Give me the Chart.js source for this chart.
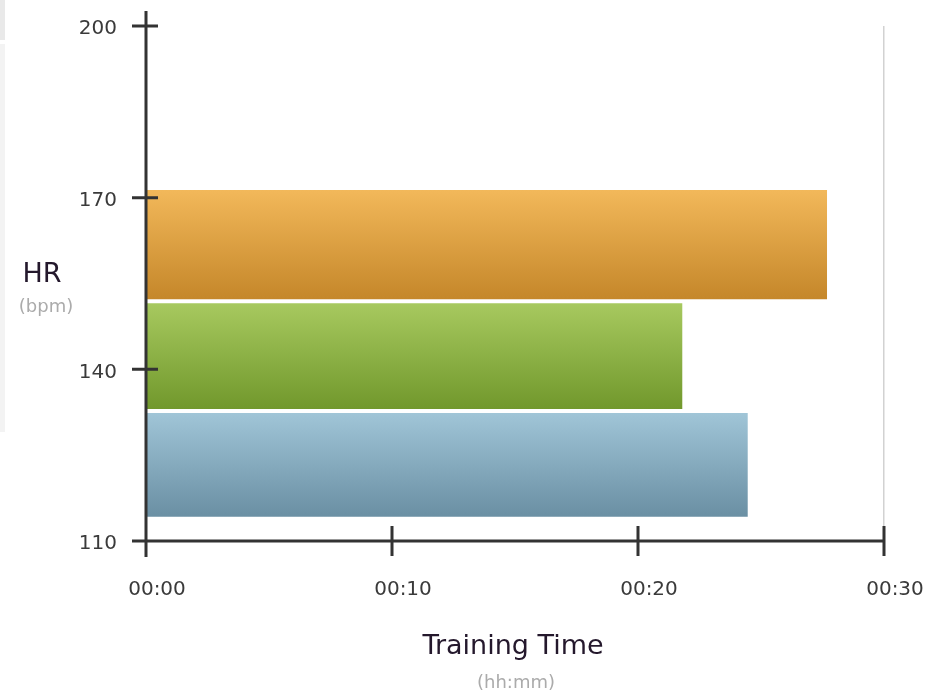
<!DOCTYPE html>
<html>
<head>
<meta charset="utf-8">
<title>Training Time per HR Zone</title>
<script src="https://cdn.jsdelivr.net/npm/chart.js@4"></script>
<style>
  html, body { margin: 0; padding: 0; background: #fff; }
  #wrap { position: relative; width: 930px; height: 693px; overflow: hidden; }
  .edge { position: absolute; left: 0; width: 5px; }
  #edgeTop { top: 0; height: 40px; background: #e9e9e9; }
  #edgeMid { top: 44px; height: 388px; background: #f3f3f3; }
  canvas { position: absolute; left: 0; top: 0; }
</style>
</head>
<body>
<div id="wrap">
  <div class="edge" id="edgeTop"></div>
  <div class="edge" id="edgeMid"></div>
  <canvas id="zoneChart" width="930" height="693"></canvas>
</div>
<script>
// HR zones, top to bottom
const zoneNames = ['Zone 3', 'Zone 2', 'Zone 1'];
const zoneMidHr = [161.8, 142.3, 123.3];      // bpm, middle of each band
const zoneMinutes = [27.67, 21.8, 24.46];     // time spent in the zone
const hrTicks = [110, 140, 170, 200];
const timeTicks = [0, 10, 20, 30];

const topColors = ['#f2b85a', '#a7c95f', '#a0c5d7'];
const bottomColors = ['#c5872a', '#71982c', '#6a8fa3'];
const barFill = [1.0, 0.972, 0.955];

function fmtTime(min) {
    const h = Math.floor(min / 60);
    const m = Math.round(min % 60);
    return String(h).padStart(2, '0') + ':' + String(m).padStart(2, '0');
}

// vertical gradient per bar, from the bar element itself
function barGradient(ctx, i) {
    const chart = ctx.chart;
    const el = chart.getDatasetMeta(ctx.datasetIndex).data[ctx.dataIndex];
    if (!chart.chartArea || !el || !el.height) return bottomColors[i];
    const g = chart.ctx.createLinearGradient(0, el.y - el.height / 2, 0, el.y + el.height / 2);
    g.addColorStop(0, topColors[i]);
    g.addColorStop(1, bottomColors[i]);
    return g;
}

// axis lines with crossing tick marks, plus axis titles
const axesPlugin = {
    id: 'crossAxes',
    afterDatasetsDraw(chart) {
        const { ctx } = chart;
        const xs = chart.scales.x, ys = chart.scales.y;
        const x0 = xs.getPixelForValue(0);
        const y0 = ys.getPixelForValue(hrTicks[0]);
        ctx.save();
        ctx.strokeStyle = '#333';
        ctx.lineWidth = 3;
        ctx.lineCap = 'butt';
        ctx.beginPath();
        ctx.moveTo(x0, ys.top - 15);
        ctx.lineTo(x0, ys.bottom + 16);
        ctx.moveTo(x0 - 14, y0);
        ctx.lineTo(xs.getPixelForValue(timeTicks[timeTicks.length - 1]) + 1.5, y0);
        hrTicks.forEach(v => {
            const y = ys.getPixelForValue(v);
            ctx.moveTo(x0 - 14, y);
            ctx.lineTo(x0 + 12, y);
        });
        timeTicks.forEach(v => {
            const x = xs.getPixelForValue(v);
            ctx.moveTo(x, y0 - 15);
            ctx.lineTo(x, y0 + 15);
        });
        ctx.stroke();

        const cx = (chart.chartArea.left + chart.chartArea.right) / 2;
        ctx.textAlign = 'center';
        ctx.textBaseline = 'alphabetic';
        ctx.fillStyle = '#24182c';
        ctx.font = '27px "DejaVu Sans"';
        ctx.fillText('Training Time', cx - 2, 654);
        ctx.fillText('HR', 42, 282);
        ctx.fillStyle = '#ababab';
        ctx.font = '18px "DejaVu Sans"';
        ctx.fillText('(hh:mm)', cx + 1, 688);
        ctx.fillText('(bpm)', 46, 312);
        ctx.restore();
    }
};

Chart.defaults.font.family = '"DejaVu Sans"';
Chart.defaults.color = '#3a3a3a';

const chart = new Chart(document.getElementById('zoneChart'), {
    type: 'bar',
    data: {
        datasets: zoneNames.map((name, i) => ({
            label: name,
            data: [{ x: zoneMinutes[i], y: zoneMidHr[i] }],
            backgroundColor: c => barGradient(c, i),
            borderWidth: 0,
            categoryPercentage: 1,
            barPercentage: barFill[i],
            grouped: false
        }))
    },
    options: {
        indexAxis: 'y',
        responsive: false,
        animation: false,
        layout: { padding: { left: 0, right: 46, top: 26, bottom: 0 } },
        plugins: { legend: { display: false }, tooltip: { enabled: false } },
        scales: {
            x: {
                type: 'linear',
                min: timeTicks[0],
                max: timeTicks[timeTicks.length - 1],
                afterBuildTicks: s => { s.ticks = timeTicks.map(v => ({ value: v })); },
                afterFit: s => { s.height = 152; s.paddingLeft = 0; s.paddingRight = 0; },
                border: { display: false },
                grid: {
                    drawTicks: false,
                    lineWidth: 1.5,
                    color: c => c.index === timeTicks.length - 1 ? '#d2d2d2' : 'rgba(0,0,0,0)'
                },
                ticks: {
                    font: { size: 20 },
                    padding: 37,
                    labelOffset: 11,
                    maxRotation: 0,
                    callback: v => fmtTime(v)
                }
            },
            y: {
                type: 'linear',
                offset: false,
                min: hrTicks[0],
                max: hrTicks[hrTicks.length - 1],
                afterBuildTicks: s => { s.ticks = hrTicks.map(v => ({ value: v })); },
                afterFit: s => { s.width = 146; s.paddingTop = 0; s.paddingBottom = 0; },
                border: { display: false },
                grid: { display: false, drawTicks: false },
                ticks: { font: { size: 20 }, padding: 29, labelOffset: 3 }
            }
        }
    },
    plugins: [axesPlugin]
});
// second pass so the gradients can read the laid-out bar geometry
chart.update();
</script>
</body>
</html>
